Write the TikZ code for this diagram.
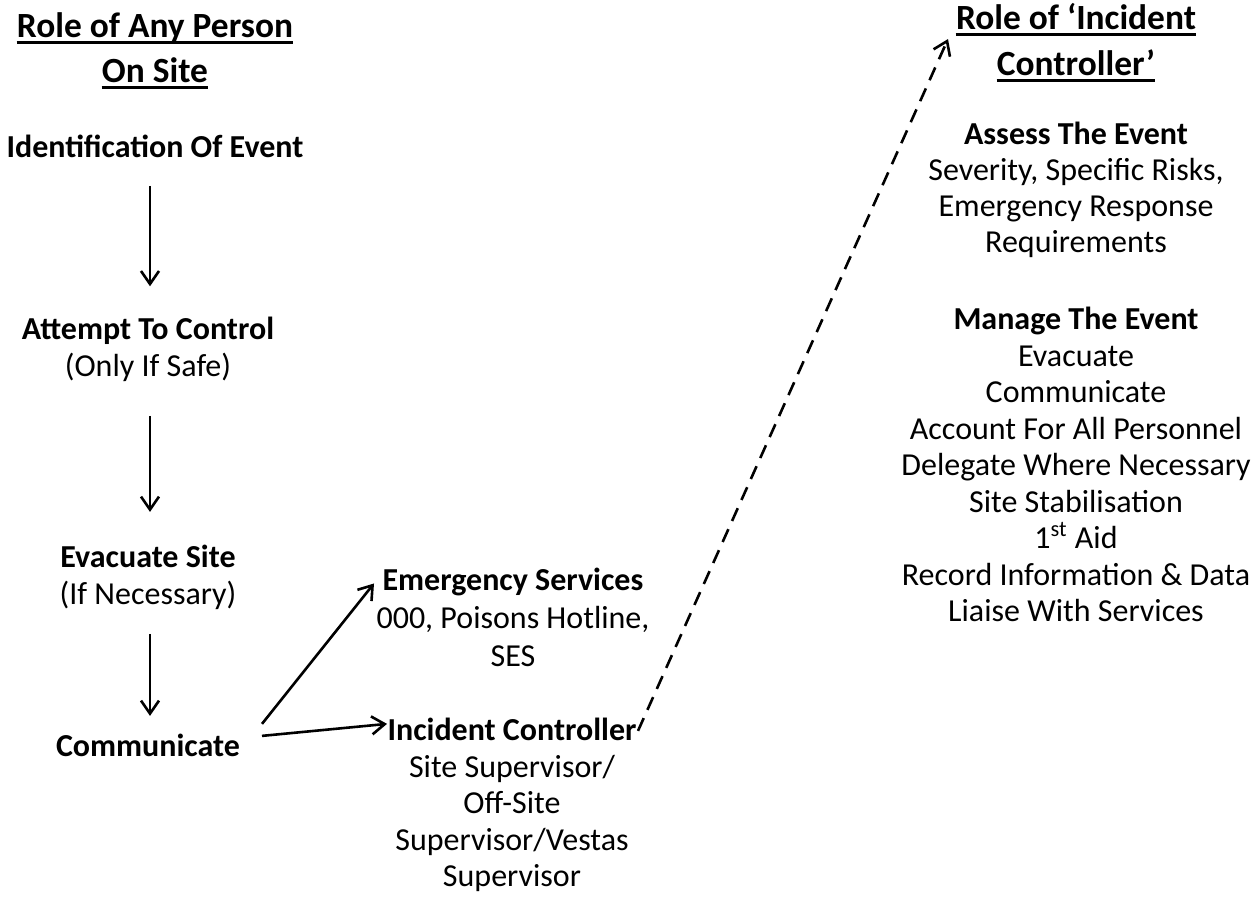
\documentclass[tikz,border=0pt]{standalone}
\usepackage{fontspec}
\setmainfont{Carlito}
\usetikzlibrary{arrows.meta,calc}
\tikzset{
  txt/.style={inner sep=0pt, anchor=base, font=\fontsize{16}{18}\selectfont},
  bold/.style={txt, font=\fontsize{16}{18}\selectfont\bfseries},
  ttl/.style={inner sep=0pt, anchor=base, font=\fontsize{17.7}{21}\selectfont\bfseries},
  uline/.style={line width=1.4pt},
  arr/.style={line width=1.3pt, -{Straight Barb[length=6.5pt,width=9pt,line width=1.3pt]}},
  darr/.style={arr, dash pattern=on 7pt off 4.5pt}
}
\begin{document}
\begin{tikzpicture}[x=0.5pt,y=-0.5pt]
\useasboundingbox (0,0) rectangle (1260,897);
% left column
\node[ttl] (t1a) at (155,38) {Role of Any Person};
\node[ttl] (t1b) at (155,83) {On Site};
\node[bold] (ident) at (155,158) {Identification Of Event};
\node[bold] (attempt) at (148,340) {Attempt To Control};
\node[txt] (attemptb) at (148,377) {(Only If Safe)};
\node[bold] (evac) at (148,568) {Evacuate Site};
\node[txt] (evacb) at (148,605) {(If Necessary)};
\node[bold] (comm) at (148,757) {Communicate};
% middle
\node[bold] (es) at (513,591) {Emergency Services};
\node[txt] (es1) at (513,629) {000, Poisons Hotline,};
\node[txt] (es2) at (513,667) {SES};
\node[bold] (ic) at (512,741) {Incident Controller};
\node[txt] (ic1) at (512,777.5) {Site Supervisor/};
\node[txt] (ic2) at (512,814) {Off-Site};
\node[txt] (ic3) at (512,850.5) {Supervisor/Vestas};
\node[txt] (ic4) at (512,887) {Supervisor};
% right column
\node[ttl] (t2a) at (1076,30) {Role of ‘Incident};
\node[ttl] (t2b) at (1076,76) {Controller’};
\node[bold] (as) at (1076,145) {Assess The Event};
\node[txt] (as1) at (1076,181) {Severity, Specific Risks,};
\node[txt] (as2) at (1076,217) {Emergency Response};
\node[txt] (as3) at (1076,253) {Requirements};
\node[bold] (mg) at (1076,330) {Manage The Event};
\node[txt] (mg1) at (1076,366.5) {Evacuate};
\node[txt] (mg2) at (1076,403) {Communicate};
\node[txt] (mg3) at (1076,439.5) {Account For All Personnel};
\node[txt] (mg4) at (1076,476) {Delegate Where Necessary};
\node[txt] (mg5) at (1076,512.5) {Site Stabilisation};
\node[txt] (mg6) at (1076,549) {1\textsuperscript{st} Aid};
\node[txt] (mg7) at (1076,585.5) {Record Information \& Data};
\node[txt] (mg8) at (1076,622) {Liaise With Services};
% title underlines
\foreach \n in {t1a,t1b,t2a,t2b}
  \draw[uline] ([yshift=-2.2pt]\n.base west) -- ([yshift=-2.2pt]\n.base east);
% arrows
\draw[arr] ($(ident)+(-5,39)$) -- ($(attempt)+(2,-45)$);
\draw[arr] ($(attemptb)+(2,48)$) -- ($(evac)+(2,-45)$);
\draw[arr] ($(evacb)+(2,38)$) -- ($(comm)+(2,-30)$);
\draw[arr] ($(comm)+(114,-22)$) -- ($(es)+(-139,1)$);
\draw[arr] ($(comm)+(114,-10)$) -- ($(ic)+(-125,-6)$);
\draw[darr] ($(ic)+(126,1)$) -- ($(t2a)+(-128,22)$);
\end{tikzpicture}
\end{document}
